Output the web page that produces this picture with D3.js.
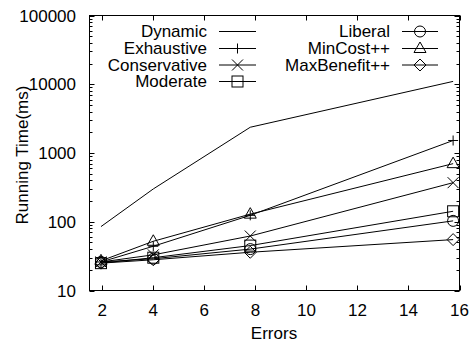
<!DOCTYPE html>
<html>
<head>
<meta charset="utf-8">
<script src="https://cdn.jsdelivr.net/npm/d3@7"></script>
<style>
  html, body { margin: 0; padding: 0; background: #fff; }
  svg { display: block; }
  text { font-family: "Liberation Sans", Arial, Helvetica, sans-serif; fill: #000; }
</style>
</head>
<body>
<svg id="chart" width="473" height="345"></svg>
<script>
// Number of errors at which each strategy was timed
const errors = [1.95, 4, 7.8, 15.75];

// Running time in milliseconds, one array per strategy
const dynamic      = [85, 300, 2370, 11000];
const exhaustive   = [26, 44, 124, 1520];
const conservative = [26, 33, 62, 370];
const moderate     = [25, 30, 45, 142];
const liberal      = [26, 29, 40, 103];
const minCost      = [27, 52, 129, 700];
const maxBenefit   = [25, 28, 36, 55];

const seriesNames = ["Dynamic", "Exhaustive", "Conservative", "Moderate", "Liberal", "MinCost++", "MaxBenefit++"];
const seriesValues = [dynamic, exhaustive, conservative, moderate, liberal, minCost, maxBenefit];
const seriesMarkers = ["none", "plus", "cross", "square", "circle", "triangle", "diamond"];

const xTicks = [2, 4, 6, 8, 10, 12, 14, 16];
const yTicks = [10, 100, 1000, 10000, 100000];

const svg = d3.select("#chart");
const plot = { left: 89.5, right: 459.5, top: 15.5, bottom: 290.5 };
const fontSize = 17;

const x = d3.scaleLinear().domain([1.5, 16]).range([plot.left, plot.right]);
const y = d3.scaleLog().domain([10, 100000]).range([plot.bottom, plot.top]);

// Minor ticks for the log axis: 2..9 in each decade
const yMinor = [];
for (let d = 10; d < 100000; d *= 10) for (let k = 2; k <= 9; k++) yMinor.push(d * k);

const g = svg.append("g");

// Frame
g.append("rect")
  .attr("x", plot.left).attr("y", plot.top)
  .attr("width", plot.right - plot.left).attr("height", plot.bottom - plot.top)
  .attr("fill", "none").attr("stroke", "#000").attr("stroke-width", 1);

// Inward ticks on all four sides
const ticks = g.append("g").attr("stroke", "#000").attr("stroke-width", 1);
xTicks.forEach(t => {
  const px = Math.round(x(t)) + 0.5;
  ticks.append("line").attr("x1", px).attr("x2", px).attr("y1", plot.bottom).attr("y2", plot.bottom - 5);
  ticks.append("line").attr("x1", px).attr("x2", px).attr("y1", plot.top).attr("y2", plot.top + 5);
});
yTicks.forEach(t => {
  const py = Math.round(y(t)) + 0.5;
  ticks.append("line").attr("x1", plot.left).attr("x2", plot.left + 5).attr("y1", py).attr("y2", py);
  ticks.append("line").attr("x1", plot.right).attr("x2", plot.right - 5).attr("y1", py).attr("y2", py);
});
yMinor.forEach(t => {
  const py = Math.round(y(t)) + 0.5;
  ticks.append("line").attr("x1", plot.left).attr("x2", plot.left + 3).attr("y1", py).attr("y2", py);
  ticks.append("line").attr("x1", plot.right).attr("x2", plot.right - 3).attr("y1", py).attr("y2", py);
});

// Tick labels
g.selectAll(".xl").data(xTicks).join("text")
  .attr("x", d => x(d)).attr("y", 316)
  .attr("text-anchor", "middle").attr("font-size", fontSize)
  .text(d => d);
g.selectAll(".yl").data(yTicks).join("text")
  .attr("x", 76).attr("y", d => y(d) + 6)
  .attr("text-anchor", "end").attr("font-size", fontSize)
  .text(d => d);

// Axis titles
g.append("text").attr("x", 274).attr("y", 339)
  .attr("text-anchor", "middle").attr("font-size", fontSize).text("Errors");
g.append("text").attr("transform", "translate(28,155) rotate(-90)")
  .attr("text-anchor", "middle").attr("font-size", fontSize).text("Running Time(ms)");

// Marker shapes
function drawMarker(sel, type, cx, cy) {
  const s = sel.append("g").attr("fill", "none").attr("stroke", "#000").attr("stroke-width", 1);
  if (type === "plus") {
    s.append("path").attr("d", `M${cx - 5},${cy}H${cx + 5}M${cx},${cy - 5}V${cy + 5}`);
  } else if (type === "cross") {
    s.append("path").attr("d", `M${cx - 5.5},${cy - 5.5}L${cx + 5.5},${cy + 5.5}M${cx - 5.5},${cy + 5.5}L${cx + 5.5},${cy - 5.5}`);
  } else if (type === "square") {
    s.append("rect").attr("x", cx - 5.5).attr("y", cy - 5.5).attr("width", 11).attr("height", 11);
  } else if (type === "circle") {
    s.append("circle").attr("cx", cx).attr("cy", cy).attr("r", 5.5);
  } else if (type === "triangle") {
    s.append("path").attr("d", `M${cx},${cy - 6.5}L${cx + 6},${cy + 4}L${cx - 6},${cy + 4}Z`);
  } else if (type === "diamond") {
    s.append("path").attr("d", `M${cx},${cy - 6}L${cx + 6},${cy}L${cx},${cy + 6}L${cx - 6},${cy}Z`);
  }
}

// Series lines and markers
const line = d3.line().x((d, i) => x(errors[i])).y(d => y(d));
const marks = g.append("g");
seriesValues.forEach((vals, si) => {
  marks.append("path").attr("d", line(vals))
    .attr("fill", "none").attr("stroke", "#000").attr("stroke-width", 1);
  vals.forEach((v, i) => drawMarker(marks, seriesMarkers[si], x(errors[i]), y(v)));
});

// Legend: two columns
const legendRows = [31, 48, 64.5, 81];
const legend = g.append("g");
seriesNames.forEach((name, i) => {
  const col = i < 4 ? 0 : 1;
  const row = i < 4 ? i : i - 4;
  const textRight = col === 0 ? 207 : 390;
  const x1 = col === 0 ? 219 : 402;
  const x2 = col === 0 ? 256 : 438;
  const ly = legendRows[row];
  legend.append("text").attr("x", textRight).attr("y", ly + 6)
    .attr("text-anchor", "end").attr("font-size", fontSize).text(name);
  legend.append("line").attr("x1", x1).attr("x2", x2).attr("y1", ly + 0.5).attr("y2", ly + 0.5)
    .attr("stroke", "#000").attr("stroke-width", 1);
  drawMarker(legend, seriesMarkers[i], (x1 + x2) / 2, ly + 0.5);
});
</script>
</body>
</html>
